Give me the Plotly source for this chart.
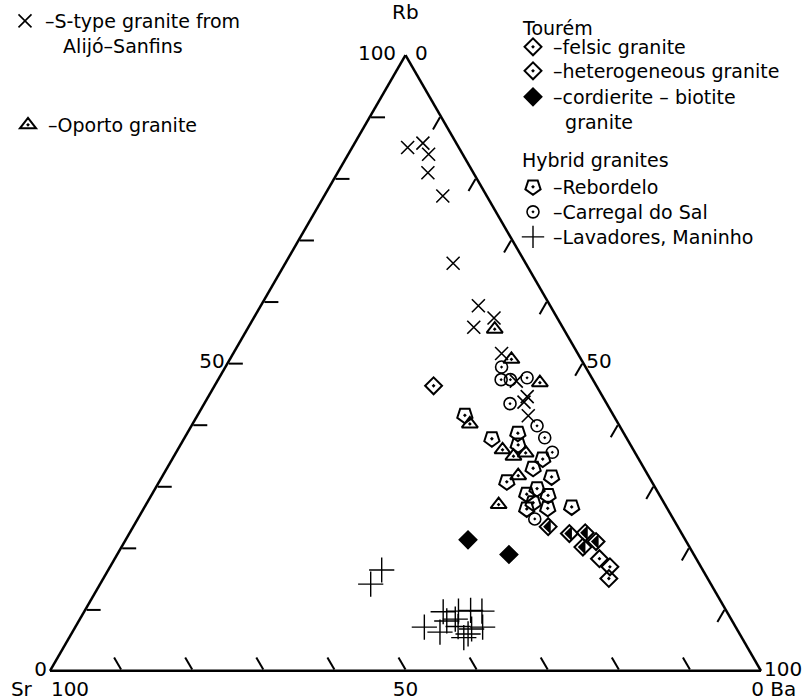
import plotly.graph_objects as go

# ---- data (Rb, Sr, Ba in %) ----
stype_rb = [85.0, 85.8, 83.9, 80.9, 77.2, 66.2, 59.3, 55.8, 57.3, 51.5, 47.1, 44.5, 43.6, 41.4]
stype_sr = [7.2, 4.7, 4.8, 6.4, 6.2, 10.2, 10.1, 12.5, 8.9, 10.7, 10.9, 10.6, 11.5, 12.0]
stype_ba = [7.8, 9.6, 11.3, 12.7, 16.7, 23.6, 30.6, 31.7, 33.8, 37.7, 42.1, 44.8, 44.8, 46.5]

oporto_rb = [55.5, 50.6, 46.8, 40.1, 35.9, 34.9, 35.4, 31.7, 27.0]
oporto_sr = [9.7, 9.8, 7.7, 20.9, 18.4, 17.4, 15.4, 18.3, 23.4]
oporto_ba = [34.8, 39.6, 45.5, 39.0, 45.7, 47.8, 49.2, 50.0, 49.6]

felsic_rb = [46.3, 18.2, 16.9, 15.0]
felsic_sr = [22.9, 13.6, 12.8, 13.9]
felsic_ba = [30.8, 68.1, 70.3, 71.1]

hetero_rb = [23.4, 22.3, 22.4, 21.0, 20.1]
hetero_sr = [18.2, 15.8, 13.5, 12.7, 15.0]
hetero_ba = [58.3, 61.9, 64.0, 66.3, 64.9]

cordb_rb = [21.3, 18.9]
cordb_sr = [30.6, 26.0]
cordb_ba = [48.2, 55.1]

rebord_rb = [41.5, 37.7, 38.6, 36.7, 34.4, 32.9, 31.5, 30.7, 29.6, 28.7, 28.5, 27.3, 26.3, 26.4, 26.6]
rebord_sr = [20.9, 19.0, 14.9, 15.8, 13.5, 15.6, 13.7, 20.4, 16.7, 18.6, 15.7, 18.4, 19.8, 16.8, 13.3]
rebord_ba = [37.6, 43.3, 46.5, 47.5, 52.1, 51.5, 54.8, 48.9, 53.7, 52.7, 55.8, 54.3, 53.9, 56.8, 60.0]

carreg_rb = [49.3, 47.3, 47.3, 47.6, 43.4, 39.8, 37.9, 35.5, 24.7]
carreg_sr = [11.8, 12.9, 11.6, 9.1, 13.6, 11.6, 11.5, 11.6, 19.5]
carreg_ba = [38.8, 39.8, 41.1, 43.3, 43.0, 48.6, 50.7, 52.9, 55.9]

lavad_rb = [16.4, 14.1, 7.1, 6.3, 9.6, 9.7, 9.8, 9.7, 8.1, 8.4, 7.2, 6.8, 7.1, 5.4, 6.0]
lavad_sr = [45.2, 47.9, 43.8, 42.0, 39.9, 37.7, 35.9, 34.4, 40.1, 38.8, 39.0, 37.3, 35.6, 39.1, 38.2]
lavad_ba = [38.5, 38.1, 49.1, 51.7, 50.5, 52.6, 54.2, 55.9, 51.7, 52.8, 53.8, 55.9, 57.3, 55.5, 55.8]

tick_vals = [0, 10, 20, 30, 40, 50, 60, 70, 80, 90, 100]
NB = "\u00a0"
a_text = ["0", "", "", "", "", "50", "", "", "", "", "100" + NB]
b_text = [NB * 4 + "0" + NB + "Ba", "", "", "", "", "50", "", "", "", "", "Sr" + NB * 3 + "100"]
c_text = [NB + "0", "", "", "", "", "50", "", "", "", "", "100"]

FONT = "DejaVu Sans"
BLACK = "black"
LFS = 19

fig = go.Figure()

def add(rb, sr, ba, name, symbol, size, lw, legend, showlegend=True, angle=0):
    fig.add_trace(go.Scatterternary(
        a=rb, b=sr, c=ba, mode="markers", name=name, legend=legend,
        showlegend=showlegend,
        marker=dict(symbol=symbol, size=size, angle=angle, color=BLACK,
                    line=dict(color=BLACK, width=lw)),
    ))

add(stype_rb, stype_sr, stype_ba, "–S-type granite from<br>   Alijó–Sanfins", "x-thin-open", 13, 1.6, "legend")
add(oporto_rb, oporto_sr, oporto_ba, "–Oporto granite", "triangle-up-open-dot", 14, 2, "legend2")
add(felsic_rb, felsic_sr, felsic_ba, "–felsic granite", "diamond-open-dot", 13, 2, "legend3")
add(hetero_rb, hetero_sr, hetero_ba, "–heterogeneous granite", "diamond-open-dot", 13, 2, "legend4")
add(hetero_rb, hetero_sr, hetero_ba, "het-half", "triangle-sw", 12, 0, "legend4",
    showlegend=False, angle=45)
add(cordb_rb, cordb_sr, cordb_ba, "–cordierite – biotite<br>  granite", "diamond", 13, 2, "legend5")
add(rebord_rb, rebord_sr, rebord_ba, "–Rebordelo", "pentagon-open-dot", 16, 2, "legend6", angle=180)
add(carreg_rb, carreg_sr, carreg_ba, "–Carregal do Sal", "circle-open-dot", 12, 1.6, "legend7")
add(lavad_rb, lavad_sr, lavad_ba, "–Lavadores, Maninho", "cross-thin-open", 18, 1.4, "legend8")

def axis(ticktext):
    return dict(
        tickmode="array", tickvals=tick_vals, ticktext=ticktext,
        ticks="inside", ticklen=14, tickwidth=1.5, tickcolor=BLACK,
        linecolor=BLACK, linewidth=2.5, showgrid=False, min=0,
        tickfont=dict(family=FONT, size=20, color=BLACK),
        title=dict(text=""),
    )

def leg(xpx, ypx, anchor="middle"):
    return dict(x=xpx / 802, y=1 - ypx / 700, xanchor="left", yanchor=anchor,
                bgcolor="rgba(0,0,0,0)", font=dict(family=FONT, size=LFS, color=BLACK),
                valign="top", itemsizing="trace", tracegroupgap=0)

H = 700
fig.update_layout(
    width=802, height=700,
    margin=dict(l=0, r=0, t=0, b=0),
    paper_bgcolor="white",
    font=dict(family=FONT, size=LFS, color=BLACK),
    ternary=dict(
        sum=100,
        bgcolor="white",
        domain=dict(x=[50 / 802, 761 / 802], y=[(H - 671) / H, (H - 55) / H]),
        aaxis=axis(a_text),
        baxis=axis(b_text),
        caxis=axis(c_text),
    ),
    legend=leg(5, 2, "top"),
    legend2=leg(8, 125),
    legend3=leg(513, 47),
    legend4=leg(513, 71),
    legend5=leg(513, 78, "top"),
    legend6=leg(513, 187),
    legend7=leg(513, 212),
    legend8=leg(513, 237),
    annotations=[
        dict(text="Tourém", x=520 / 802, y=1 - 28 / H, xref="paper", yref="paper",
             xanchor="left", yanchor="middle", showarrow=False,
             font=dict(family=FONT, size=LFS, color=BLACK)),
        dict(text="Hybrid granites", x=520 / 802, y=1 - 160 / H, xref="paper", yref="paper",
             xanchor="left", yanchor="middle", showarrow=False,
             font=dict(family=FONT, size=LFS, color=BLACK)),
        dict(text="Rb", x=405 / 802, y=1 - 12 / H, xref="paper", yref="paper",
             xanchor="center", yanchor="middle", showarrow=False,
             font=dict(family=FONT, size=20, color=BLACK)),
    ],
)

fig.write_html("out.html")
